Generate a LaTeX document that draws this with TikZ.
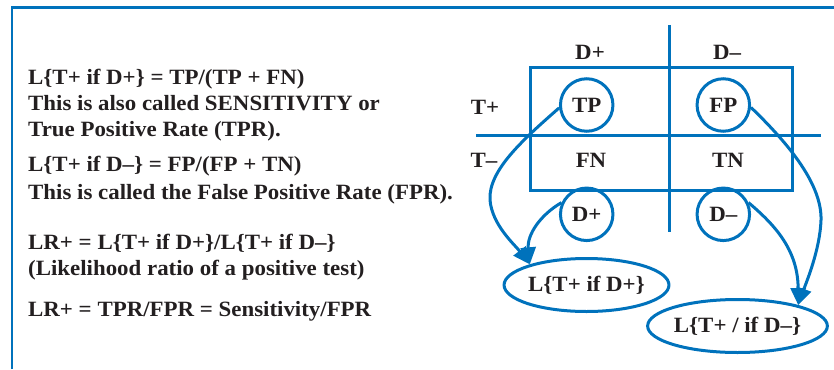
\documentclass[tikz,border=0pt]{standalone}
\usepackage{fontspec}
\setmainfont{Liberation Serif}[FakeStretch=1.05]
\usetikzlibrary{arrows.meta,shapes.geometric}
\definecolor{blu}{RGB}{0,114,188}
\definecolor{ink}{RGB}{35,31,32}
\begin{document}
\begin{tikzpicture}[x=1pt,y=-1pt,
  every node/.style={text=ink,font=\fontsize{21.8}{26}\selectfont\bfseries,inner sep=0pt},
  txt/.style={anchor=base west},
  lbl/.style={anchor=center},
  bl/.style={draw=blu,line width=3pt},
  circ/.style={circle,draw=blu,line width=3pt,minimum size=52.5pt},
  ell/.style={ellipse,draw=blu,line width=3pt,minimum width=164pt,minimum height=53pt},
  arr/.style={draw=blu,line width=3pt,-{Triangle[length=17pt,width=15pt]}}]
\useasboundingbox (0,0) rectangle (834,369);
% frame
\draw[blu,line width=2.5pt] (12,369) -- (12,7.5) -- (834,7.5);
% left text
\node[txt] (l1) at (28,84) {L\{T+ if D+\} = TP/(TP + FN)};
\node[txt] (l2) at (28,110) {This is also called SENSITIVITY or};
\node[txt] (l3) at (28,136) {True Positive Rate (TPR).};
\node[txt] (l4) at (28,171) {L\{T+ if D–\} = FP/(FP + TN)};
\node[txt] (l5) at (28,199) {This is called the False Positive Rate (FPR).};
\node[txt] (l6) at (28,249) {LR+ = L\{T+ if D+\}/L\{T+ if D–\}};
\node[txt] (l7) at (28,275) {(Likelihood ratio of a positive test)};
\node[txt] (l8) at (28,316) {LR+ = TPR/FPR = Sensitivity/FPR};
% grid
\draw[bl] (530.7,67.7) rectangle (792.3,190);
\draw[bl] (669,25) -- (669,232);
\draw[bl] (476,135.7) -- (821,135.7);
% labels
\node[lbl] (dplus) at (590,52) {D+};
\node[lbl] (dminus) at (727,52) {D–};
\node[lbl] (tplus) at (485,107) {T+};
\node[lbl] (tminus) at (484,160) {T–};
\node[lbl] (fn) at (591,160) {FN};
\node[lbl] (tn) at (728,160) {TN};
% circles
\node[circ] (tp) at (586.7,105) {TP};
\node[circ] (fp) at (723.3,105) {FP};
\node[circ] (dp) at (586.7,214.3) {D+};
\node[circ] (dm) at (723.3,214.3) {D–};
% ellipses
\node[ell] (e1) at (586.5,285) {L\{T+ if D+\}};
\node[ell] (e2) at (737.5,326) {L\{T+ / if D–\}};
% arrows
\draw[arr] (tp.186) .. controls (525,138) and (488,170) .. (490,200)
  .. controls (492,225) and (515,245) .. (e1.160);
\draw[arr] (dp.155) .. controls (540,215) and (527,235) .. (e1.160);
\draw[arr] (fp.-5) .. controls (790,145) and (822,185) .. (821,220)
  .. controls (820,250) and (806,283) .. (e2.19);
\draw[arr] (dm.25) .. controls (775,225) and (798,250) .. (e2.19);
\end{tikzpicture}
\end{document}
